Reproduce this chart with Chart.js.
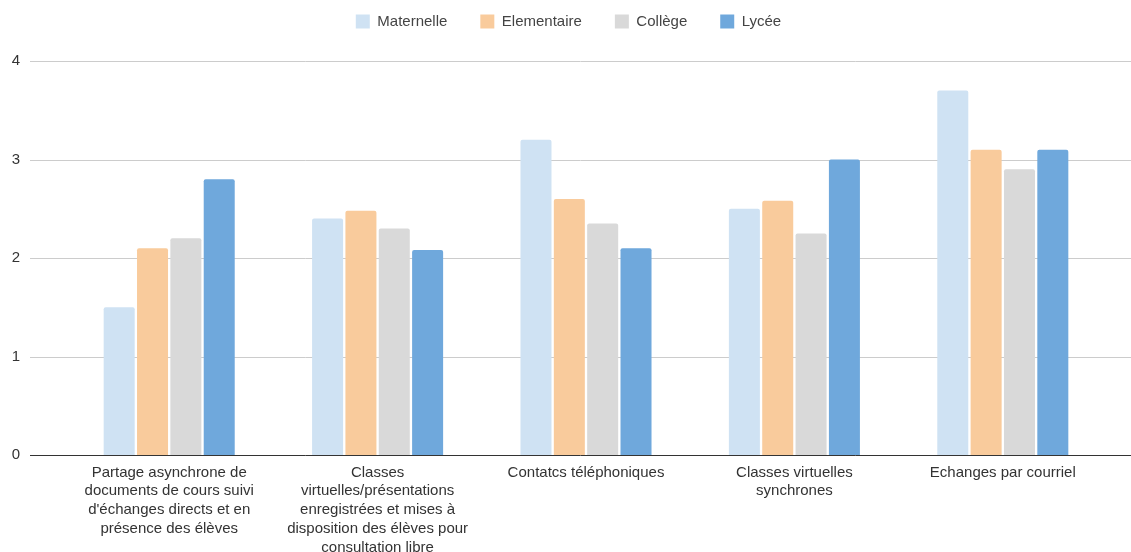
<!DOCTYPE html>
<html>
<head>
<meta charset="utf-8">
<script src="https://cdn.jsdelivr.net/npm/chart.js@4.4.1/dist/chart.umd.min.js"></script>
<style>
  html, body { margin: 0; padding: 0; background: #fff; }
  #wrap { width: 1131px; height: 552px; position: relative; }
</style>
</head>
<body>
<div id="wrap"><canvas id="chart"></canvas></div>
<script>
const categories = [
  ["Partage asynchrone de", "documents de cours suivi", "d'échanges directs et en", "présence des élèves"],
  ["Classes", "virtuelles/présentations", "enregistrées et mises à", "disposition des élèves pour", "consultation libre"],
  "Contatcs téléphoniques",
  ["Classes virtuelles", "synchrones"],
  "Echanges par courriel"
];
const seriesNames = ["Maternelle", "Elementaire", "Collège", "Lycée"];
const maternelle = [1.5, 2.4, 3.2, 2.5, 3.7];
const elementaire = [2.1, 2.48, 2.6, 2.58, 3.1];
const college = [2.2, 2.3, 2.35, 2.25, 2.9];
const lycee = [2.8, 2.08, 2.1, 3.0, 3.1];
const yTicks = [0, 1, 2, 3, 4];
const colors = ["#cfe2f3", "#f9cb9c", "#d9d9d9", "#6fa8dc"];

const FONT = "'Liberation Sans', Arial, sans-serif";

// lignes de grille plus larges que la zone des barres (style Google Sheets)
const wideGrid = {
  id: "wideGrid",
  beforeLayout(chart) {
    const lg = chart.legend;
    if (lg && !lg._fixed) {
      const fit = lg.fit.bind(lg);
      lg.fit = function () { fit(); this.height = 80; };
      lg._fixed = true;
    }
  },
  afterLayout(chart) {
    // légende un peu décalée vers la droite
    const lg = chart.legend;
    if (lg) { lg.left += 15; lg.right += 15; }
  },
  beforeDatasetsDraw(chart) {
    const { ctx, scales: { y } } = chart;
    ctx.save();
    ctx.strokeStyle = "#cccccc";
    ctx.lineWidth = 1;
    yTicks.forEach(v => {
      if (v === 0) return;
      const py = Math.round(y.getPixelForValue(v)) + 0.5;
      ctx.beginPath();
      ctx.moveTo(30, py);
      ctx.lineTo(chart.width, py);
      ctx.stroke();
    });
    ctx.restore();
  },
  afterDatasetsDraw(chart) {
    const { ctx, scales: { y } } = chart;
    const py = Math.round(y.getPixelForValue(0)) + 0.5;
    ctx.save();
    ctx.strokeStyle = "#333333";
    ctx.lineWidth = 1;
    ctx.beginPath();
    ctx.moveTo(30, py);
    ctx.lineTo(chart.width, py);
    ctx.stroke();
    ctx.restore();
  }
};

const series = [maternelle, elementaire, college, lycee];

new Chart(document.getElementById("chart"), {
  type: "bar",
  data: {
    labels: categories,
    datasets: series.map((d, i) => ({
      label: seriesNames[i],
      data: d,
      backgroundColor: colors[i],
      borderRadius: 2,
      borderSkipped: "bottom",
      categoryPercentage: 0.64,
      barPercentage: 0.93
    }))
  },
  options: {
    responsive: true,
    maintainAspectRatio: false,
    animation: false,
    layout: { padding: { top: -19, right: 24, left: 0, bottom: 0 } },
    plugins: {
      legend: {
        position: "top",
        labels: {
          boxWidth: 14,
          boxHeight: 14,
          padding: 33,
          color: "#444",
          font: { family: FONT, size: 15 }
        }
      },
      tooltip: { enabled: false }
    },
    scales: {
      x: {
        grid: { display: false },
        border: { display: false },
        ticks: {
          autoSkip: false,
          maxRotation: 0,
          minRotation: 0,
          padding: 0,
          color: "#333",
          font: { family: FONT, size: 15, lineHeight: 1.25 }
        },
        afterFit: s => { s.height = 97; }
      },
      y: {
        min: 0,
        max: 4,
        grid: { display: false },
        border: { display: false },
        ticks: {
          stepSize: 1,
          padding: 37,
          color: "#333",
          font: { family: FONT, size: 15 }
        },
        afterFit: s => { s.width = 65; }
      }
    }
  },
  plugins: [wideGrid]
});
</script>
</body>
</html>
